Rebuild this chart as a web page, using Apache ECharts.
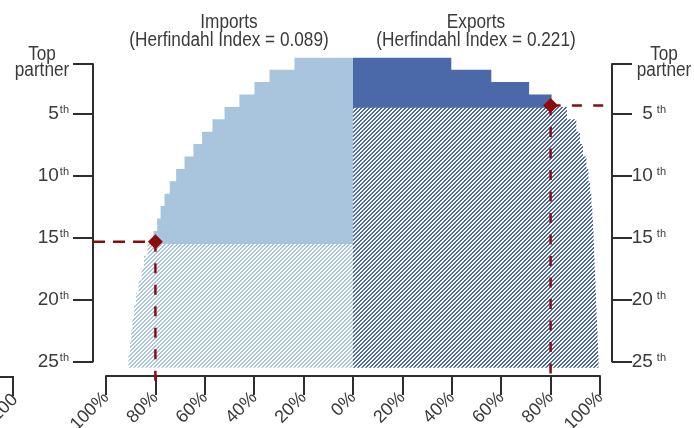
<!DOCTYPE html>
<html>
<head>
<meta charset="utf-8">
<script src="https://cdn.jsdelivr.net/npm/echarts@6/dist/echarts.min.js"></script>
<style>
html,body{margin:0;padding:0;background:#fff;}
#chart{width:694px;height:428px;}
</style>
</head>
<body>
<div id="chart"></div>
<script>
// ---- data ----
const ranks = ['1','2','3','4','5','6','7','8','9','10','11','12','13','14','15','16','17','18','19','20','21','22','23','24','25'];
// cumulative share of trade accounted for by the top-N partners (%)
const importsShare = [23.7,33.8,39.9,46.0,52.0,56.9,61.1,64.6,68.2,71.6,74.2,76.3,77.9,79.3,80.8,83.2,84.6,85.6,86.8,87.8,88.6,89.3,89.8,90.3,90.9];
const exportsShare = [39.8,56.0,71.3,80.4,86.6,90.4,91.9,93.1,94.5,95.3,96.0,96.5,96.9,97.2,97.4,97.6,97.8,98.0,98.2,98.4,98.6,98.8,99.0,99.2,99.4];
const importsTopN = 15;   // partners needed to reach 80%
const exportsTopN = 4;
const threshold = 80;
const importsTitle = 'Imports\n(Herfindahl Index = 0.089)';
const exportsTitle = 'Exports\n(Herfindahl Index = 0.221)';
const topLabel = 'Top\npartner';
const strayLabel = '100';

// ---- style ----
const FONT = "'Liberation Sans',Arial,sans-serif";
const TXT = '#3a3a3a';
const AX = '#2e2e2e';
const IMP = '#a9c5dd';
const EXP = '#4b69a8';
const RED = '#8e0b0b';

function hatch(hex){
  const S=4;
  const c=document.createElement('canvas'); c.width=S; c.height=S;
  const ctx=c.getContext('2d'); const img=ctx.createImageData(S,S);
  const r=parseInt(hex.slice(1,3),16), g=parseInt(hex.slice(3,5),16), b=parseInt(hex.slice(5,7),16);
  for(let y=0;y<S;y++)for(let x=0;x<S;x++){
    const on = ((x+y)%S) < 2;
    const i=(y*S+x)*4; img.data[i]=r;img.data[i+1]=g;img.data[i+2]=b;img.data[i+3]=on?255:0;
  }
  ctx.putImageData(img,0,0);
  return c;
}

const chart = echarts.init(document.getElementById('chart'), null, {renderer:'canvas'});

const impSolid = importsShare.map((v,i)=> i<importsTopN ? -v : '-');
const impHatch = importsShare.map((v,i)=> i>=importsTopN ? -v : '-');
const expSolid = exportsShare.map((v,i)=> i<exportsTopN ? v : '-');
const expHatch = exportsShare.map((v,i)=> i>=exportsTopN ? v : '-');

// layout
const W=694, H=428;
const plotL=106, plotR=600, axL=93, axR=612;
const gridTop = 57.7, band = 12.4;
const gridBottom = H - (gridTop + band*25);
const pxPerUnit = (plotR-plotL)/200;
const lineGridBottomPx = 384;
const impCutY = importsTopN + 0.35, expCutY = exportsTopN + 0.35;

const shownIdx = i => i===0 || (i+1)%5===0;
const bar = (data, color) => ({type:'bar', data, xAxisIndex:0, yAxisIndex:0, barGap:'-100%', barWidth:band+0.8,
  itemStyle:{color}, emphasis:{disabled:true}, silent:true});
const dash = (data, arr) => ({type:'line', data, xAxisIndex:2, yAxisIndex:4, symbol:'none', silent:true,
  lineStyle:{color:RED, width:2.5, type:arr}, z:5});
const xMinL = -100 - (plotL-axL)/pxPerUnit, xMaxL = 100 + (axR-plotR)/pxPerUnit;
const yMaxL = 0.5 + (lineGridBottomPx-gridTop)/band;

const richY = (padL) => ({n:{fontSize:19, fontFamily:FONT, color:TXT, lineHeight:19},
  s:{fontSize:11, fontFamily:FONT, color:TXT, verticalAlign:'top', lineHeight:11, padding:[0,0,0,padL]}});

chart.setOption({
  animation:false,
  backgroundColor:'#fff',
  textStyle:{fontFamily:FONT},
  grid:[
    {left:plotL, right:W-plotR, top:gridTop, bottom:gridBottom, outerBoundsMode:'none', containLabel:false},
    {left:axL, right:W-axR, top:gridTop+band/2, bottom:gridBottom+band/2, outerBoundsMode:'none', containLabel:false},
    {left:axL, right:W-axR, top:gridTop, bottom:H-lineGridBottomPx, outerBoundsMode:'none', containLabel:false}
  ],
  xAxis:[
    {type:'value', gridIndex:0, min:-100, max:100, interval:20, offset:8.3,
      axisLine:{show:true, lineStyle:{color:AX, width:2}},
      axisTick:{show:true, length:19, lineStyle:{color:AX, width:2}},
      splitLine:{show:false},
      axisLabel:{rotate:45, margin:19, color:TXT, fontSize:18, fontFamily:FONT, formatter:v=>Math.abs(v)+'%'}},
    {type:'value', gridIndex:1, show:false, min:0, max:1},
    {type:'value', gridIndex:2, show:false, min:xMinL, max:xMaxL}
  ],
  yAxis:[
    {type:'category', gridIndex:0, data:ranks, inverse:true, show:false},
    {type:'category', gridIndex:1, data:ranks, inverse:true, boundaryGap:false, position:'left',
      axisLine:{lineStyle:{color:AX, width:2}},
      axisTick:{length:20, interval:(i)=>shownIdx(i), lineStyle:{color:AX, width:2}},
      axisLabel:{interval:(i)=>shownIdx(i), margin:24, color:TXT,
        formatter:(v,i)=> i===0 ? '' : '{n|'+v+'}{s|th}', rich:richY(1)}},
    {type:'category', gridIndex:1, data:ranks, inverse:true, boundaryGap:false, position:'right',
      axisLine:{lineStyle:{color:AX, width:2}},
      axisTick:{length:20, interval:(i)=>shownIdx(i), lineStyle:{color:AX, width:2}},
      axisLabel:{interval:(i)=>shownIdx(i), margin:54, align:'right', color:TXT,
        formatter:(v,i)=> i===0 ? '' : '{n|'+v+'}{s|th}', rich:richY(4)}},
    {type:'value', gridIndex:1, show:false},
    {type:'value', gridIndex:2, show:false, min:0.5, max:yMaxL, inverse:true}
  ],
  series:[
    bar(impSolid, IMP),
    bar(impHatch, {image:hatch(IMP), repeat:'repeat'}),
    bar(expSolid, EXP),
    bar(expHatch, {image:hatch(EXP), repeat:'repeat'}),
    dash([[xMinL, impCutY], [-threshold, impCutY]], [12,8]),
    dash([[-threshold, impCutY], [-threshold, yMaxL]], [10,11.5]),
    dash([[threshold, expCutY], [xMaxL, expCutY]], [10,11.3]),
    dash([[threshold, expCutY], [threshold, yMaxL]], [10,11.5]),
    {type:'scatter', xAxisIndex:2, yAxisIndex:4, symbol:'diamond', symbolSize:15, silent:true, z:6,
      itemStyle:{color:RED, opacity:1}, data:[[-threshold, impCutY],[threshold, expCutY]]}
  ],
  graphic:[
    {type:'text', x:229, y:13, scaleX:0.86, style:{text:importsTitle, textAlign:'center', textVerticalAlign:'top', font:'20px '+FONT, lineHeight:18, fill:TXT}},
    {type:'text', x:476, y:13, scaleX:0.86, style:{text:exportsTitle, textAlign:'center', textVerticalAlign:'top', font:'20px '+FONT, lineHeight:18, fill:TXT}},
    {type:'text', x:42, y:46, scaleX:0.86, style:{text:topLabel, textAlign:'center', textVerticalAlign:'top', font:'20px '+FONT, lineHeight:16, fill:TXT}},
    {type:'text', x:664, y:46, scaleX:0.86, style:{text:topLabel, textAlign:'center', textVerticalAlign:'top', font:'20px '+FONT, lineHeight:16, fill:TXT}},
    {type:'polyline', shape:{points:[[-2,377],[13,377],[13,396]]}, style:{stroke:AX, lineWidth:2, fill:null}},
    {type:'text', x:15, y:397, rotation:Math.PI/4, style:{text:strayLabel, textAlign:'right', textVerticalAlign:'middle', font:'18px '+FONT, fill:TXT}}
  ]
});
</script>
</body>
</html>
